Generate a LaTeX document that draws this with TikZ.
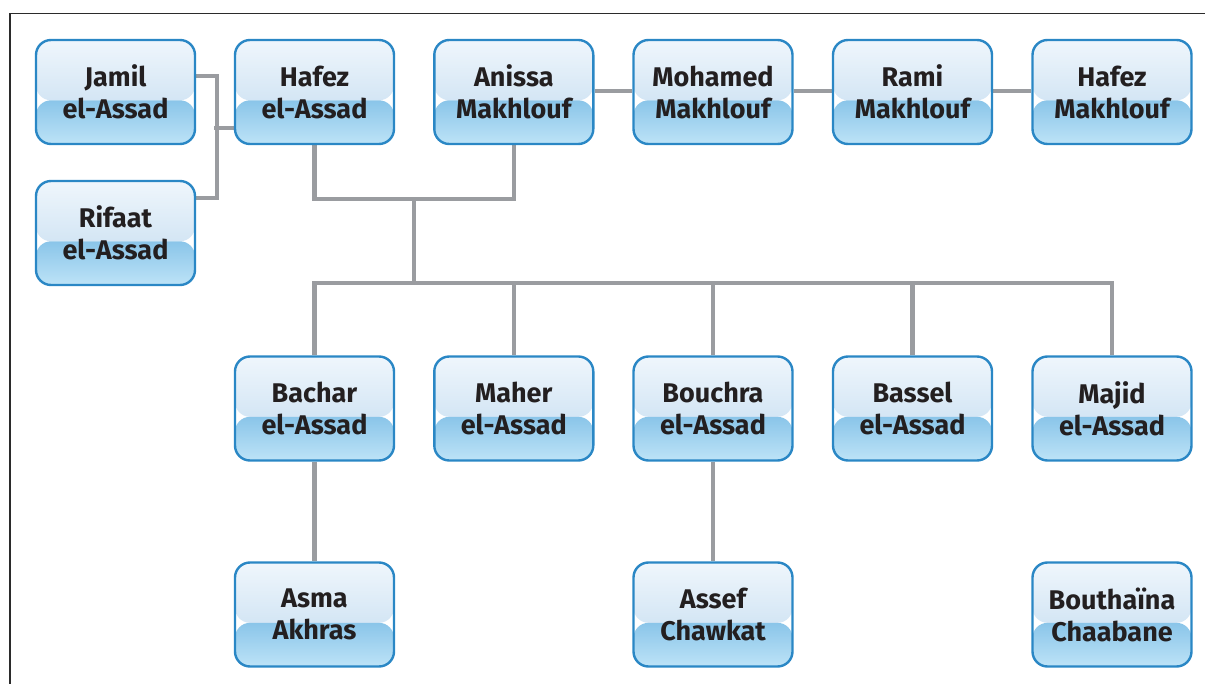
\documentclass[tikz,border=0pt]{standalone}
\usepackage{fontspec}
\setmainfont{Fira Sans}
\usetikzlibrary{calc,backgrounds}
\definecolor{bordblue}{HTML}{2A87C5}
\definecolor{gtop}{HTML}{EFF6FC}
\definecolor{gmid}{HTML}{C0DAEF}
\definecolor{gbota}{HTML}{8AC5E9}
\definecolor{gbotb}{HTML}{BDE3F7}
\definecolor{txt}{HTML}{231F20}
\definecolor{conngray}{HTML}{9A9CA0}
\definecolor{framegray}{HTML}{2B2B2B}
\tikzset{
  person/.style={rounded corners=15pt, draw=bordblue, line width=2.4pt,
    minimum width=159pt, minimum height=104pt, inner sep=0pt, align=center,
    font=\bfseries\fontsize{27}{32}\selectfont, text=txt,
    path picture={
      \shade[top color=gtop, bottom color=gmid]
        ($(path picture bounding box.south west)!0.42!(path picture bounding box.north west)$)
        rectangle (path picture bounding box.north east);
      \shade[top color=gbota, bottom color=gbotb]
        (path picture bounding box.south west)
        rectangle ($(path picture bounding box.south east)!0.42!(path picture bounding box.north east)$);
    }},
  conn/.style={draw=conngray, line width=4.5pt},
  framestyle/.style={draw=framegray, line width=1.3pt}
}
\begin{document}
\begin{tikzpicture}[x=1pt,y=-1pt]
\useasboundingbox (0,0) rectangle (1205,684);
\draw[framestyle] (10,684) -- (10,13.5) -- (1205,13.5);

\node[person] (jamil)   at (115.5,92) {Jamil\\el-Assad};
\node[person] (hafez)   at (314.5,92) {Hafez\\el-Assad};
\node[person] (anissa)  at (513.8,92) {Anissa\\Makhlouf};
\node[person] (mohamed) at (713,92)   {Mohamed\\Makhlouf};
\node[person] (rami)    at (912.5,92) {Rami\\Makhlouf};
\node[person] (hafezm)  at (1112,92)  {Hafez\\Makhlouf};
\node[person] (rifaat)  at (115.5,233) {Rifaat\\el-Assad};

\node[person] (bachar)  at (314.5,408.5) {Bachar\\el-Assad};
\node[person] (maher)   at (513.8,408.5) {Maher\\el-Assad};
\node[person] (bouchra) at (713,408.5)   {Bouchra\\el-Assad};
\node[person] (bassel)  at (912.5,408.5) {Bassel\\el-Assad};
\node[person] (majid)   at (1112,408.5)  {Majid\\el-Assad};

\node[person] (asma)    at (314.5,614.5) {Asma\\Akhras};
\node[person] (assef)   at (713,614.5)   {Assef\\Chawkat};
\node[person] (boutha)  at (1112,614.5)  {Bouthaïna\\Chaabane};

\begin{scope}[on background layer]
  % brothers bracket
  \draw[conn] ([yshift=16pt]jamil.east) -- ++(21,0) |- ([yshift=35pt]rifaat.east);
  \draw[conn] ([yshift=-36pt]hafez.west) -- ++(-20,0);
  % marriage
  \draw[conn] (hafez.south) -- ++(0,54) -| (anissa.south);
  \coordinate (mid) at ($(hafez.south)!0.5!(anissa.south)+(0,54)$);
  \coordinate (kids) at ($(mid)+(0,84)$);
  \draw[conn] (mid) -- (kids);
  \draw[conn] (bachar.north) |- (kids) -| (majid.north);
  \draw[conn] (maher.north) -- (maher.north |- kids);
  \draw[conn] (bouchra.north) -- (bouchra.north |- kids);
  \draw[conn] (bassel.north) -- (bassel.north |- kids);
  % Makhlouf chain
  \draw[conn] ([yshift=1pt]anissa.east) -- ([yshift=1pt]mohamed.west);
  \draw[conn] ([yshift=1pt]mohamed.east) -- ([yshift=1pt]rami.west);
  \draw[conn] ([yshift=1pt]rami.east) -- ([yshift=1pt]hafezm.west);
  % spouses
  \draw[conn] (bachar) -- (asma);
  \draw[conn] (bouchra) -- (assef);
\end{scope}
\end{tikzpicture}
\end{document}
